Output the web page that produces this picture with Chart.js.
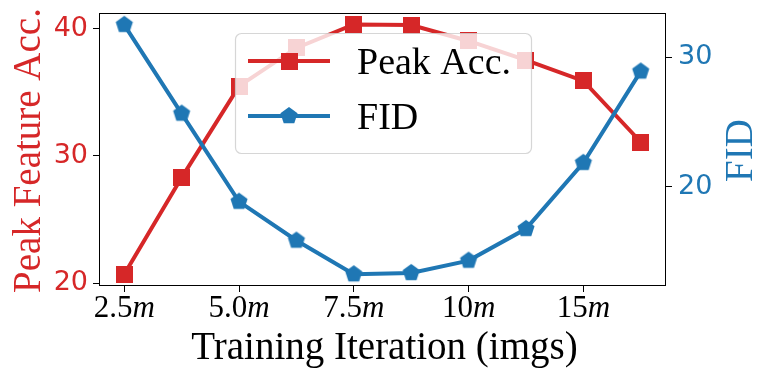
<!DOCTYPE html>
<html><head><meta charset="utf-8">
<script src="https://cdn.jsdelivr.net/npm/chart.js@4"></script>
<style>html,body{margin:0;padding:0;background:#fff;}canvas{display:block;}</style>
</head><body>
<canvas id="c" width="770" height="378"></canvas>
<script>
// ---- data ----
const iterations = ['2.5m','3.75m','5.0m','6.25m','7.5m','8.75m','10m','12.5m','15m','17.5m'];
const peakAcc = [20.7, 28.3, 35.5, 38.5, 40.35, 40.3, 39.05, 37.55, 35.9, 31.1];
const fid = [32.5, 25.65, 18.85, 15.85, 13.25, 13.35, 14.3, 16.75, 21.85, 28.9];
const xTickIndex = [0, 2, 4, 6, 8];
const xTickNumbers = ['2.5', '5.0', '7.5', '10', '15'];
const xTickUnit = 'm';
const accTicks = [20, 30, 40];
const fidTicks = [20, 30];
const seriesNames = ['Peak Acc.', 'FID'];
const axisTitles = {x: 'Training Iteration (imgs)', acc: 'Peak Feature Acc.', fid: 'FID'};

const RED = '#d62728', BLUE = '#1f77b4';

function makeSquare(size, color) {
  const c = document.createElement('canvas'); c.width = c.height = size;
  const g = c.getContext('2d'); g.fillStyle = color; g.fillRect(0, 0, size, size); return c;
}
function makePentagon(r, color) {
  const s = Math.ceil(2 * r + 2); const c = document.createElement('canvas'); c.width = c.height = s;
  const g = c.getContext('2d'); g.translate(s / 2, s / 2); g.beginPath();
  for (let i = 0; i < 5; i++) { const a = -Math.PI / 2 + i * 2 * Math.PI / 5; g.lineTo(r * Math.cos(a), r * Math.sin(a)); }
  g.closePath(); g.fillStyle = color; g.fill(); return c;
}
const sq = makeSquare(17, RED);
const pent = makePentagon(9, BLUE);

const overlay = {
  id: 'overlay',
  afterDraw(chart) {
    const ctx = chart.ctx, a = chart.chartArea, xs = chart.scales.x;
    ctx.save();
    // frame
    ctx.strokeStyle = '#000'; ctx.lineWidth = 1;
    ctx.strokeRect(Math.round(a.left) + 0.5, Math.round(a.top) + 0.5, Math.round(a.right - a.left) - 1, Math.round(a.bottom - a.top) - 1);
    // legend
    const lx = a.left + 136, ly = a.top + 20, lw = 296, lh = 120;
    ctx.beginPath(); ctx.roundRect(lx + 0.5, ly + 0.5, lw, lh, 6);
    ctx.fillStyle = 'rgba(255,255,255,0.8)'; ctx.fill();
    ctx.strokeStyle = 'rgba(204,204,204,0.8)'; ctx.lineWidth = 1.2; ctx.stroke();
    const entries = [[RED, sq, ly + 28], [BLUE, pent, ly + 83]];
    entries.forEach(([col, img, y], i) => {
      ctx.strokeStyle = col; ctx.lineWidth = 4; ctx.lineCap = 'butt';
      ctx.beginPath(); ctx.moveTo(lx + 13, y); ctx.lineTo(lx + 95, y); ctx.stroke();
      ctx.drawImage(img, lx + 54 - img.width / 2, y - img.height / 2);
      ctx.fillStyle = '#000'; ctx.font = '38px "Liberation Serif"'; ctx.textBaseline = 'alphabetic';
      ctx.fillText(seriesNames[i], lx + 122, y + 13);
    });
    // x tick labels
    ctx.fillStyle = '#000'; ctx.textBaseline = 'alphabetic';
    xTickIndex.forEach((v, i) => {
      const px = xs.getPixelForValue(v);
      ctx.font = '31px "Liberation Serif"'; const w1 = ctx.measureText(xTickNumbers[i]).width;
      ctx.font = 'italic 31px "Liberation Serif"'; const w2 = ctx.measureText(xTickUnit).width;
      const x0 = px - (w1 + w2) / 2;
      ctx.font = '31px "Liberation Serif"'; ctx.fillText(xTickNumbers[i], x0, a.bottom + 31);
      ctx.font = 'italic 31px "Liberation Serif"'; ctx.fillText(xTickUnit, x0 + w1, a.bottom + 31);
    });
    // titles
    ctx.font = '39px "Liberation Serif"'; ctx.textAlign = 'center';
    ctx.fillText(axisTitles.x, (a.left + a.right) / 2 + 2, a.bottom + 73);
    const cy = (a.top + a.bottom) / 2 + 1;
    ctx.save(); ctx.translate(40, cy); ctx.rotate(-Math.PI / 2);
    ctx.fillStyle = RED; ctx.fillText(axisTitles.acc, 0, 0); ctx.restore();
    ctx.save(); ctx.translate(752, cy); ctx.rotate(-Math.PI / 2);
    ctx.fillStyle = BLUE; ctx.fillText(axisTitles.fid, 0, 0); ctx.restore();
    ctx.restore();
  }
};

const tickGrid = {display: true, drawOnChartArea: false, drawTicks: true, tickLength: 6, color: '#000', lineWidth: 1};
function zeroPad(s) { s.paddingTop = 0; s.paddingBottom = 0; s.paddingLeft = 0; s.paddingRight = 0; }

new Chart(document.getElementById('c'), {
  type: 'line',
  data: {
    datasets: [
      {label: seriesNames[1], data: fid.map((v, i) => ({x: i, y: v})), yAxisID: 'y2', order: 0,
       borderColor: BLUE, borderWidth: 4, pointStyle: pent, pointRadius: 9, fill: false, tension: 0},
      {label: seriesNames[0], data: peakAcc.map((v, i) => ({x: i, y: v})), yAxisID: 'y', order: 1,
       borderColor: RED, borderWidth: 4, pointStyle: sq, pointRadius: 9, fill: false, tension: 0}
    ]
  },
  options: {
    responsive: false, animation: false, events: [],
    layout: {padding: {top: 11, left: 0, right: 0, bottom: 0}},
    plugins: {legend: {display: false}, tooltip: {enabled: false}},
    scales: {
      x: {type: 'linear', min: -0.44, max: 9.44,
          afterBuildTicks: s => { s.ticks = xTickIndex.map(v => ({value: v})); },
          ticks: {display: false}, grid: tickGrid, border: {display: false},
          afterFit: s => { s.height = 92; zeroPad(s); }},
      y: {type: 'linear', position: 'left', min: 19.77, max: 41.25,
          afterBuildTicks: s => { s.ticks = accTicks.map(v => ({value: v})); },
          ticks: {color: RED, font: {family: 'DejaVu Sans', size: 27}, padding: 5},
          grid: tickGrid, border: {display: false},
          afterFit: s => { s.width = 99; zeroPad(s); }},
      y2: {type: 'linear', position: 'right', min: 12.34, max: 33.41,
          afterBuildTicks: s => { s.ticks = fidTicks.map(v => ({value: v})); },
          ticks: {color: BLUE, font: {family: 'DejaVu Sans', size: 27}, padding: 6},
          grid: tickGrid, border: {display: false},
          afterFit: s => { s.width = 104; zeroPad(s); }}
    }
  },
  plugins: [overlay]
});
</script>
</body></html>
